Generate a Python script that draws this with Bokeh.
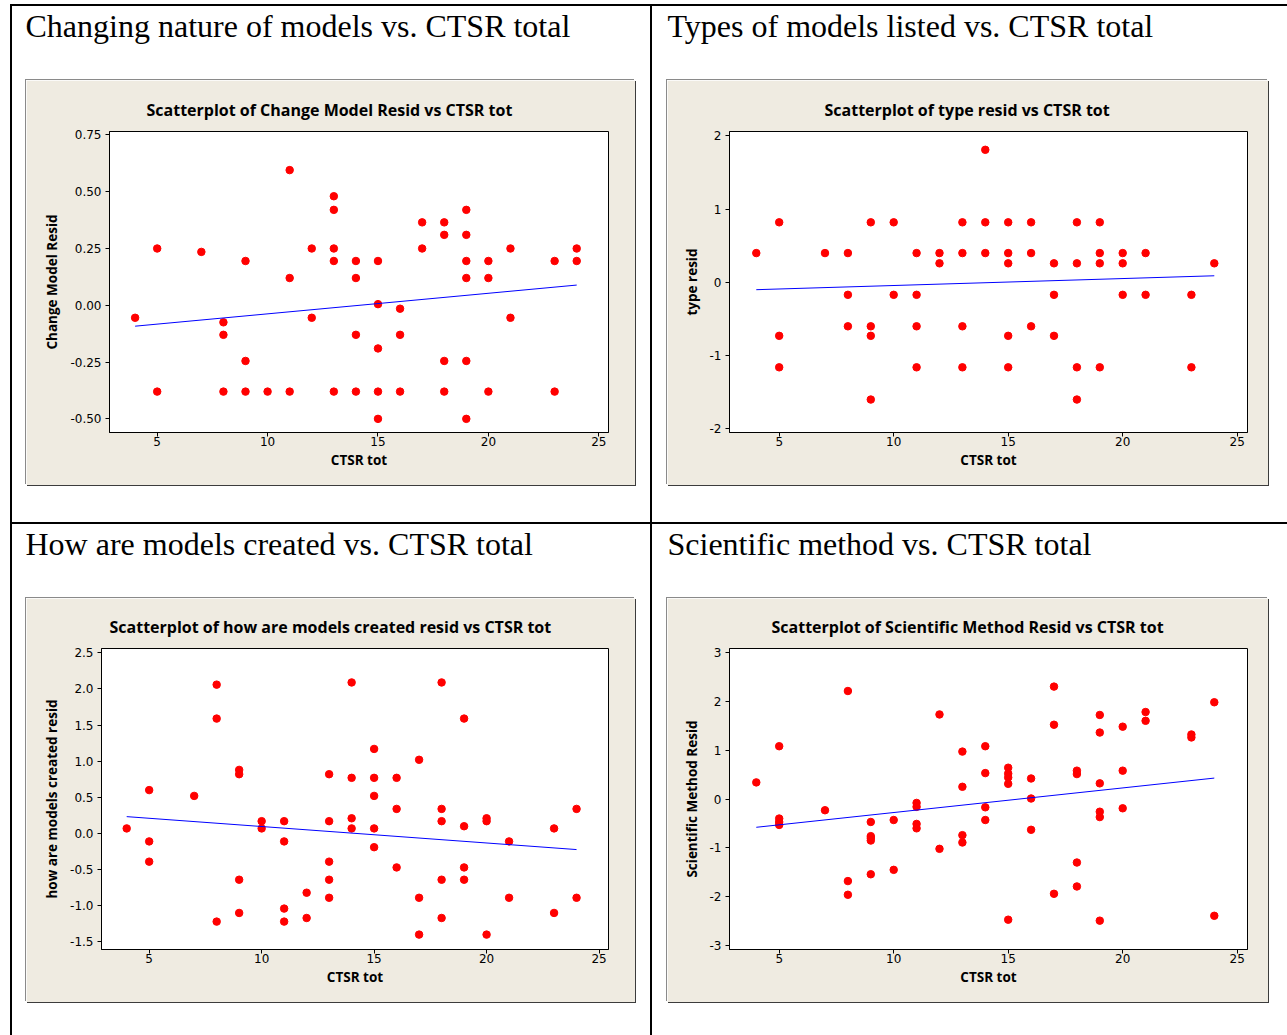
from bokeh.plotting import figure
from bokeh.models import Range1d, FixedTicker, NumeralTickFormatter, Spacer, Title
from bokeh.layouts import row, column
from bokeh.core.properties import value
from bokeh.embed import file_html
from bokeh.resources import INLINE

# ---------------- data ----------------
x_ticks = [5, 10, 15, 20, 25]
fit_x = [4, 24]

# Plot 1: Change Model Resid vs CTSR tot
ctsr_change = [4, 5, 5, 7, 8, 8, 8, 9, 9, 9, 10, 11, 11, 11, 12, 12,
               13, 13, 13, 13, 13, 14, 14, 14, 14, 15, 15, 15, 15, 15,
               16, 16, 16, 17, 17, 18, 18, 18, 18, 19, 19, 19, 19, 19, 19,
               20, 20, 20, 21, 21, 23, 23, 24, 24]
change_resid = [-0.055, 0.25, -0.38, 0.235, -0.075, -0.13, -0.38, 0.195, -0.245, -0.38,
                -0.38, 0.595, 0.12, -0.38, 0.25, -0.055,
                0.48, 0.42, 0.25, 0.195, -0.38, 0.195, 0.12, -0.13, -0.38,
                0.195, 0.005, -0.19, -0.38, -0.50,
                -0.015, -0.13, -0.38, 0.365, 0.25, 0.365, 0.31, -0.245, -0.38,
                0.42, 0.31, 0.195, 0.12, -0.245, -0.50,
                0.195, 0.12, -0.38, 0.25, -0.055, 0.195, -0.38, 0.25, 0.195]
fit_change = [-0.092, 0.089]
change_yticks = [-0.50, -0.25, 0.00, 0.25, 0.50, 0.75]

# Plot 2: type resid vs CTSR tot
ctsr_type = [4, 5, 5, 5, 7, 8, 8, 8, 9, 9, 9, 9, 10, 10, 11, 11, 11, 11,
             12, 12, 13, 13, 13, 13, 14, 14, 14, 15, 15, 15, 15, 15,
             16, 16, 16, 17, 17, 17, 18, 18, 18, 18, 19, 19, 19, 19,
             20, 20, 20, 21, 21, 23, 23, 24]
type_resid = [0.40, 0.82, -0.73, -1.16, 0.40, 0.40, -0.17, -0.60, 0.82, -0.60, -0.73, -1.60,
              0.82, -0.17, 0.40, -0.17, -0.60, -1.16,
              0.40, 0.26, 0.82, 0.40, -0.60, -1.16, 1.81, 0.82, 0.40,
              0.82, 0.40, 0.26, -0.73, -1.16,
              0.82, 0.40, -0.60, 0.26, -0.17, -0.73, 0.82, 0.26, -1.16, -1.60,
              0.82, 0.40, 0.26, -1.16,
              0.40, 0.26, -0.17, 0.40, -0.17, -0.17, -1.16, 0.26]
fit_type = [-0.10, 0.09]
type_yticks = [-2, -1, 0, 1, 2]

# Plot 3: how are models created resid vs CTSR tot
ctsr_created = [4, 5, 5, 5, 7, 8, 8, 8, 9, 9, 9, 9, 10, 10, 11, 11, 11, 11,
                12, 12, 13, 13, 13, 13, 13, 14, 14, 14, 14, 15, 15, 15, 15, 15,
                16, 16, 16, 17, 17, 17, 18, 18, 18, 18, 18, 19, 19, 19, 19,
                20, 20, 20, 21, 21, 23, 23, 24, 24]
created_resid = [0.07, 0.60, -0.11, -0.39, 0.52, 2.06, 1.59, -1.22, 0.88, 0.82, -0.64, -1.10,
                 0.17, 0.07, 0.17, -0.11, -1.04, -1.22,
                 -0.82, -1.17, 0.82, 0.17, -0.39, -0.64, -0.89, 2.09, 0.77, 0.21, 0.07,
                 1.17, 0.77, 0.52, 0.07, -0.19,
                 0.77, 0.34, -0.47, 1.02, -0.89, -1.40, 2.09, 0.34, 0.17, -0.64, -1.17,
                 1.59, 0.10, -0.47, -0.64,
                 0.21, 0.17, -1.40, -0.11, -0.89, 0.07, -1.10, 0.34, -0.89]
fit_created = [0.233, -0.223]
created_yticks = [-1.5, -1.0, -0.5, 0.0, 0.5, 1.0, 1.5, 2.0, 2.5]

# Plot 4: Scientific Method Resid vs CTSR tot
ctsr_method = [4, 5, 5, 5, 5, 7, 8, 8, 8, 9, 9, 9, 9, 9, 10, 10, 11, 11, 11, 11,
               12, 12, 13, 13, 13, 13, 14, 14, 14, 14, 15, 15, 15, 15, 15,
               16, 16, 16, 17, 17, 17, 18, 18, 18, 18, 19, 19, 19, 19, 19, 19,
               20, 20, 20, 21, 21, 23, 23, 24, 24]
method_resid = [0.34, 1.08, -0.40, -0.47, -0.53, -0.23, 2.21, -1.68, -1.96,
                -0.47, -0.76, -0.80, -0.85, -1.54, -0.43, -1.45, -0.08, -0.16, -0.51, -0.60,
                1.73, -1.02, 0.97, 0.25, -0.74, -0.89, 1.08, 0.53, -0.17, -0.43,
                0.64, 0.52, 0.44, 0.31, -2.47,
                0.42, 0.01, -0.63, 2.30, 1.52, -1.94, 0.58, 0.51, -1.30, -1.79,
                1.72, 1.36, 0.32, -0.26, -0.37, -2.49,
                1.48, 0.58, -0.19, 1.78, 1.60, 1.32, 1.26, 1.98, -2.39]
fit_method = [-0.579, 0.428]
method_yticks = [-3, -2, -1, 0, 1, 2, 3]

# ---------------- styling ----------------
BEIGE = "#EFEBE1"
TICK_FONT = "DejaVu Sans"
LABEL_FONT = "Open Sans"
HEAD_FONT = "Liberation Serif"


def scatter_panel(title, ylabel, xs, ys, fit_y, xr, yr, yticks, yfmt,
                  w, h, ml, mr, mt, mb, title_off):
    p = figure(width=w, height=h, output_backend="svg", toolbar_location=None,
               x_range=Range1d(*xr), y_range=Range1d(*yr),
               min_border_left=ml, min_border_right=mr,
               min_border_top=mt, min_border_bottom=mb,
               border_fill_color=BEIGE, background_fill_color="white",
               outline_line_color="black", outline_line_width=1,
               styles={"box-shadow": "1px 1px 0 0 #3c3c3c, -1px -1px 0 0 #8a8a8a"})
    p.grid.visible = False
    t = Title(text=title, align="left", offset=title_off, standoff=21,
              text_font=LABEL_FONT, text_font_size="16px", text_font_style="bold",
              text_color="black")
    p.add_layout(t, "above")
    p.scatter(xs, ys, size=7.5, color="#FF0000", line_color="#FF0000")
    p.line(fit_x, fit_y, line_color="#0000FF", line_width=1)

    p.xaxis.ticker = FixedTicker(ticks=x_ticks)
    p.yaxis.ticker = FixedTicker(ticks=yticks)
    p.yaxis.formatter = NumeralTickFormatter(format=yfmt)
    p.xaxis.axis_label = "CTSR tot"
    p.yaxis.axis_label = ylabel
    for ax in (p.xaxis, p.yaxis):
        ax.axis_line_color = "black"
        ax.major_tick_line_color = "black"
        ax.minor_tick_line_color = None
        ax.major_tick_out = 4
        ax.major_tick_in = 0
        ax.major_label_text_font = TICK_FONT
        ax.major_label_text_font_size = "12px"
        ax.major_label_text_color = "black"
        ax.axis_label_text_font = LABEL_FONT
        ax.axis_label_text_font_size = "13.5px"
        ax.axis_label_text_font_style = "bold"
        ax.axis_label_text_color = "black"
    p.xaxis.major_label_standoff = 0
    p.xaxis.axis_label_standoff = 2
    p.yaxis.major_label_standoff = 4
    p.yaxis.axis_label_standoff = 6
    return p


def heading(text, w, h, x_px, baseline_from_top):
    f = figure(width=w, height=h, output_backend="svg", toolbar_location=None,
               x_range=Range1d(0, w), y_range=Range1d(0, h), min_border=0,
               x_axis_location=None, y_axis_location=None,
               outline_line_color=None, background_fill_color="white",
               border_fill_color="white")
    f.grid.visible = False
    f.text(x=[x_px], y=[h - baseline_from_top], text=[text],
           text_font=value(HEAD_FONT), text_font_size="32px",
           text_baseline="alphabetic", text_align="left", text_color="black")
    return f


def line_spacer(w, h):
    return Spacer(width=w, height=h, styles={"background-color": "black"})


p1 = scatter_panel("Scatterplot of Change Model Resid vs CTSR tot", "Change Model Resid",
                   ctsr_change, change_resid, fit_change, (2.84, 25.44), (-0.56, 0.765),
                   change_yticks, "0.00", 609, 405, 83, 27, 51, 53, 37)
p2 = scatter_panel("Scatterplot of type resid vs CTSR tot", "type resid",
                   ctsr_type, type_resid, fit_type, (2.83, 25.45), (-2.05, 2.06),
                   type_yticks, "0", 601, 405, 62, 21, 51, 53, 95)
p3 = scatter_panel("Scatterplot of how are models created resid vs CTSR tot",
                   "how are models created resid",
                   ctsr_created, created_resid, fit_created, (2.88, 25.42), (-1.606, 2.56),
                   created_yticks, "0.0", 609, 404, 75, 27, 50, 53, 8)
p4 = scatter_panel("Scatterplot of Scientific Method Resid vs CTSR tot", "Scientific Method Resid",
                   ctsr_method, method_resid, fit_method, (2.83, 25.45), (-3.08, 3.08),
                   method_yticks, "0", 601, 404, 62, 21, 50, 53, 42)

h1 = heading("Changing nature of models vs. CTSR total", 638, 74, 13, 19)
h2 = heading("Types of models listed vs. CTSR total", 635, 74, 15, 19)
h3 = heading("How are models created vs. CTSR total", 638, 74, 13, 19)
h4 = heading("Scientific method vs. CTSR total", 635, 74, 15, 19)

left_col = column(
    h1,
    row(Spacer(width=14, height=405), p1, Spacer(width=15, height=405)),
    Spacer(width=638, height=37),
    line_spacer(638, 2),
    h3,
    row(Spacer(width=14, height=404), p3, Spacer(width=15, height=404)),
    Spacer(width=638, height=33),
)
right_col = column(
    h2,
    row(Spacer(width=15, height=405), p2, Spacer(width=19, height=405)),
    Spacer(width=635, height=37),
    line_spacer(635, 2),
    h4,
    row(Spacer(width=15, height=404), p4, Spacer(width=19, height=404)),
    Spacer(width=635, height=33),
)
page = column(
    Spacer(width=1287, height=4),
    row(Spacer(width=10, height=2), line_spacer(1277, 2)),
    row(Spacer(width=10, height=1029), line_spacer(2, 1029), left_col,
        line_spacer(2, 1029), right_col),
)

open("out.html", "w").write(file_html(page, INLINE))
